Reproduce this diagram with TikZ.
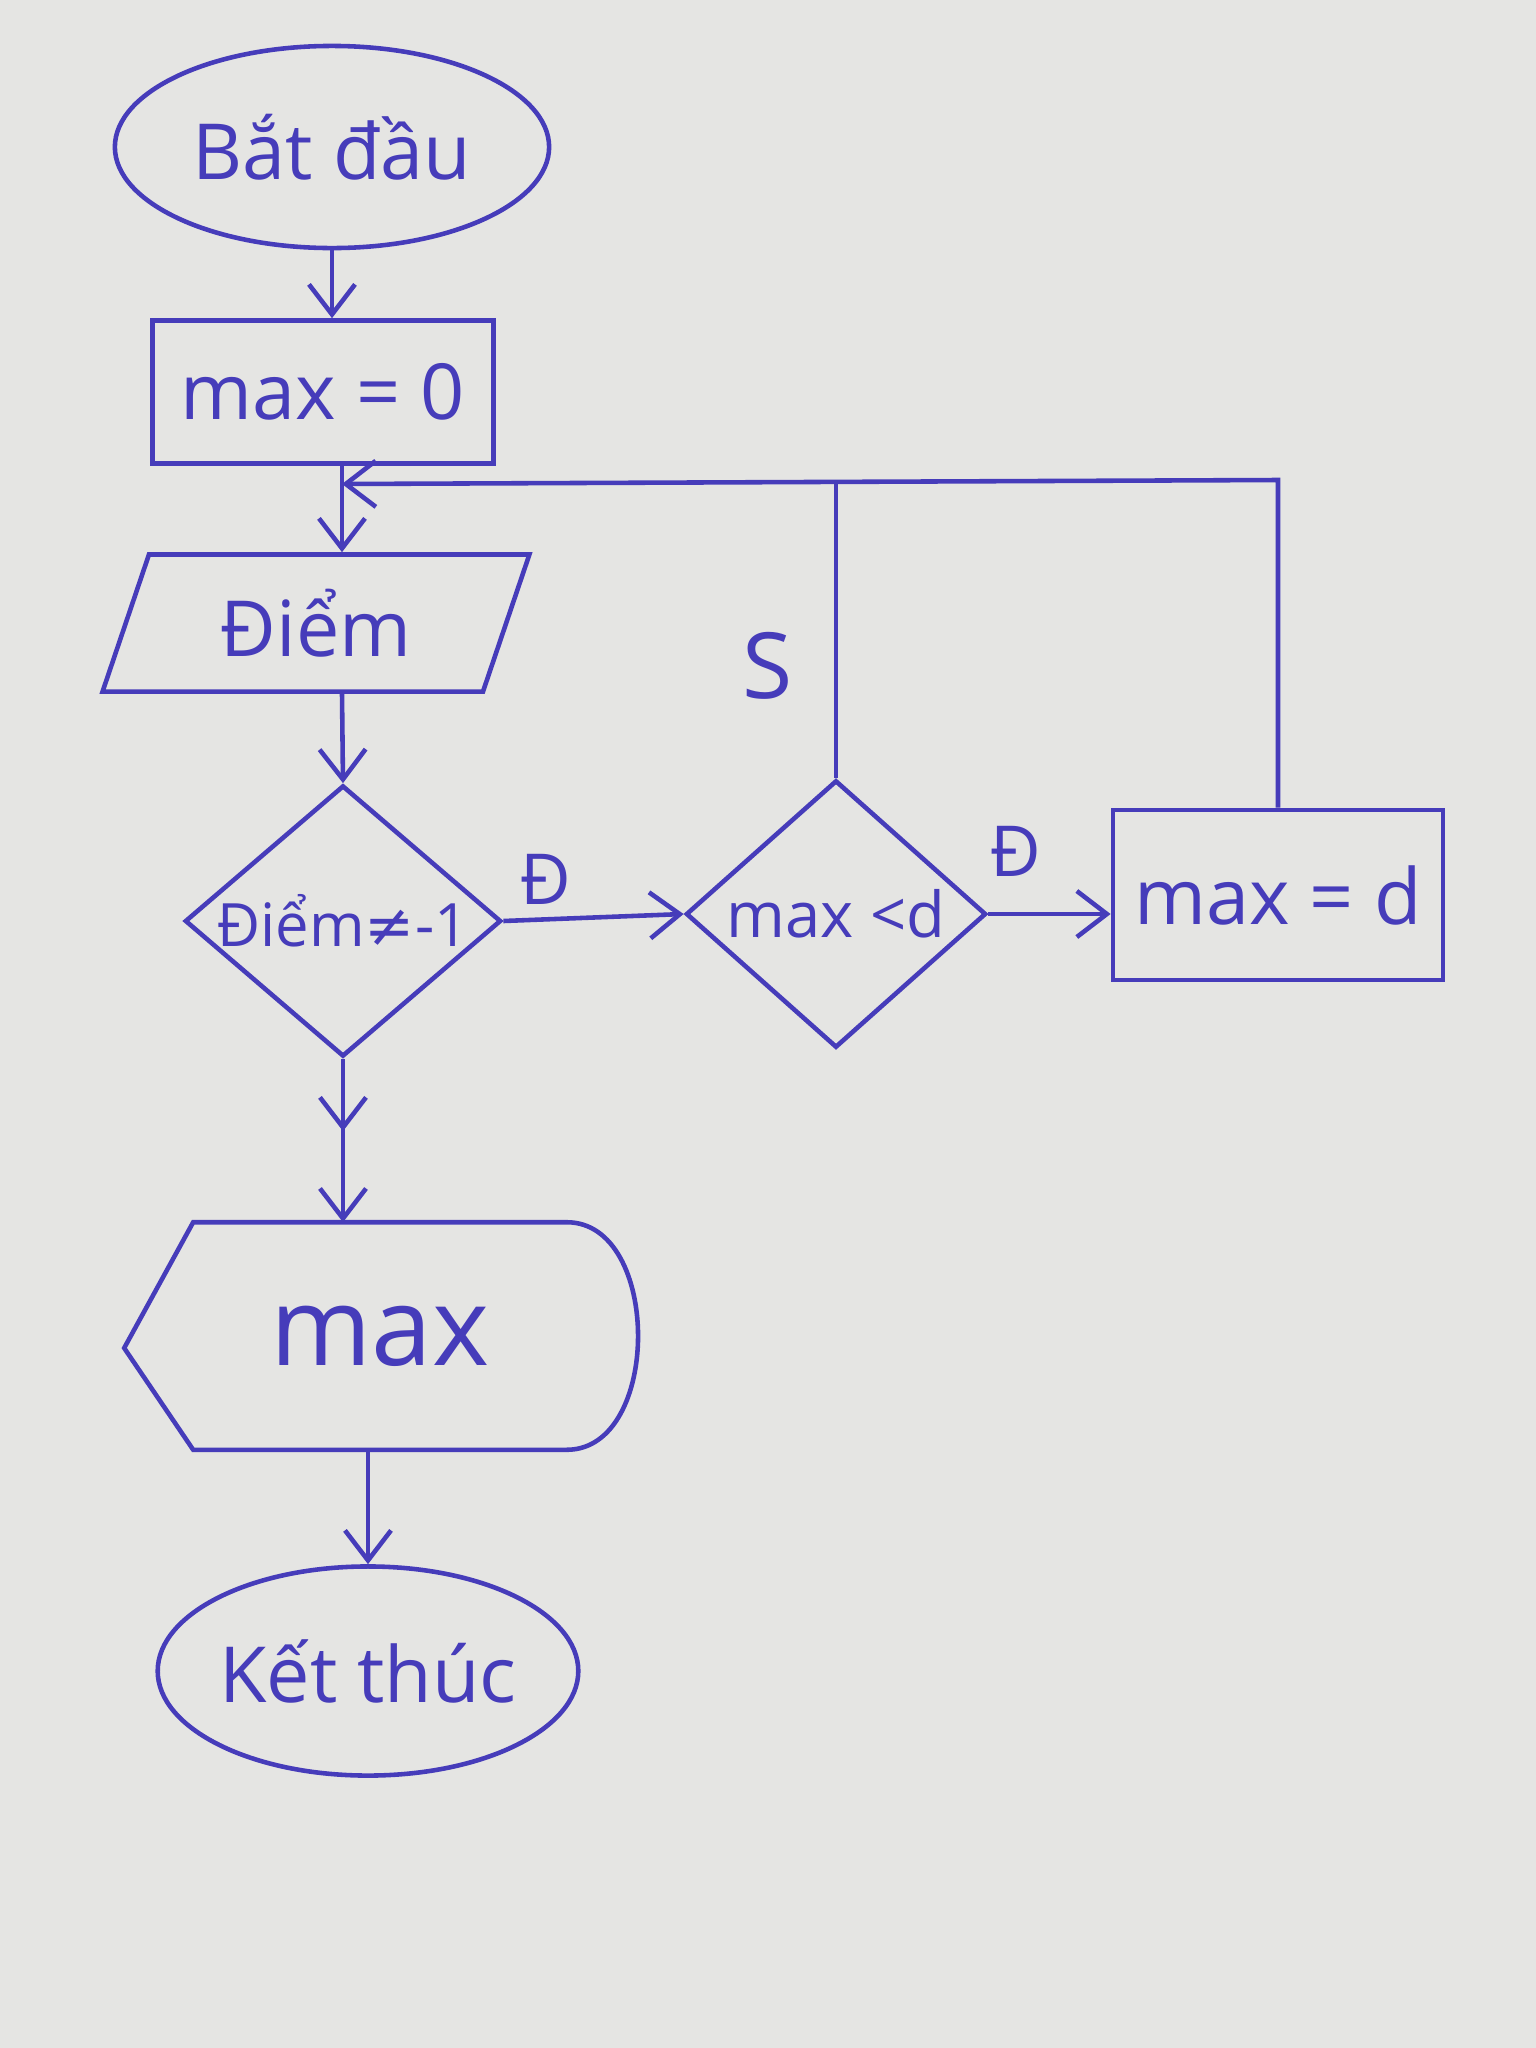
\documentclass[tikz,border=0pt]{standalone}
\usepackage{fontspec}
\setmainfont{Open Sans}
\newfontfamily\symfont{DejaVu Sans}
\usetikzlibrary{arrows.meta,shapes.geometric,calc}
\definecolor{ink}{RGB}{70,60,186}
\definecolor{paper}{RGB}{229,229,227}

\begin{document}
\begin{tikzpicture}[x=0.01cm,y=-0.01cm,>={Straight Barb[length=3mm,width=4.6mm]},
  line/.style={draw=ink,line width=1.3pt},
  flow/.style={line,->},
  dblflow/.style={line,-{Straight Barb[length=3mm,width=4.6mm,sep=5.5mm]Straight Barb[length=3mm,width=4.6mm]}},
  txt/.style={text=ink,font=\fontsize{22}{26}\selectfont},
  small/.style={text=ink,font=\fontsize{17}{20}\selectfont},
  lbl/.style={text=ink,font=\fontsize{20}{24}\selectfont},
  term/.style={ellipse,line,txt,inner sep=0pt},
  procbox/.style={rectangle,line,txt},
  iobox/.style={trapezium,trapezium left angle=72,trapezium right angle=108,
    trapezium stretches=true,line,txt},
  decide/.style={diamond,line,inner sep=0pt}]
  \useasboundingbox (0,0) rectangle (1536,2048);
  \fill[paper] (0,0) rectangle (1536,2048);

  % main column
  \node[term,minimum width=4.34cm,minimum height=2.02cm] (start) at (332,147) {Bắt đầu};
  \node[procbox,minimum width=3.41cm,minimum height=1.43cm] (max0) at (323,392) {max = 0};
  \node[iobox,minimum width=4.28cm,minimum height=1.37cm] (diem) at (316,623) {Điểm};
  \node[decide,small,aspect=1.2,minimum width=3.16cm,minimum height=2.71cm] (d1) at (343,921) {Điểm{\symfont ≠}-1};
  \node[text=ink,font=\fontsize{31}{36}\selectfont,minimum width=3.72cm,minimum height=2.26cm] (out) at (380,1336) {max};
  \draw[line] (out.north west) -- (out.north east) .. controls +(95,0) and +(95,0) .. (out.south east)
    -- (out.south west) -- ($(out.west)+(-69,12)$) -- cycle;
  \node[term,minimum width=4.09cm,minimum height=2.09cm] (end) at (368,1671) {Kết thúc};

  % branch to the right
  \node[decide,txt,font=\fontsize{18}{22}\selectfont,minimum width=3.0cm,minimum height=2.66cm] (d2) at (836,914) {max <d};
  \node[procbox,minimum width=3.3cm,minimum height=1.7cm] (maxd) at (1278,895) {max = d};

  \coordinate (merge) at (342,484);
  \coordinate (top) at (0,480);

  \draw[flow] (start.south) -- (start.south |- max0.north);
  \draw[flow] (max0.south -| merge) -- (merge |- diem.north);
  \draw[flow] (diem.south -| merge) -- (d1.north);
  \draw[flow] (d1.east) -- (d2.west);
  \node[lbl] (yes1) at (546,879) {Đ};
  \draw[flow] (d2.east) -- (d2.east -| maxd.west);
  \node[lbl] (yes2) at (1016,851) {Đ};
  \draw[flow] (maxd.north) -- (maxd.north |- top) -- (merge);
  \draw[line] (d2.north) -- (d2.north |- top);
  \node[text=ink,font=\fontsize{26}{30}\selectfont] (no1) at (768,666) {S};
  \draw[dblflow] (d1.south) -- (d1.south |- out.north);
  \draw[flow] (end.north |- out.south) -- (end.north);
\end{tikzpicture}
\end{document}
